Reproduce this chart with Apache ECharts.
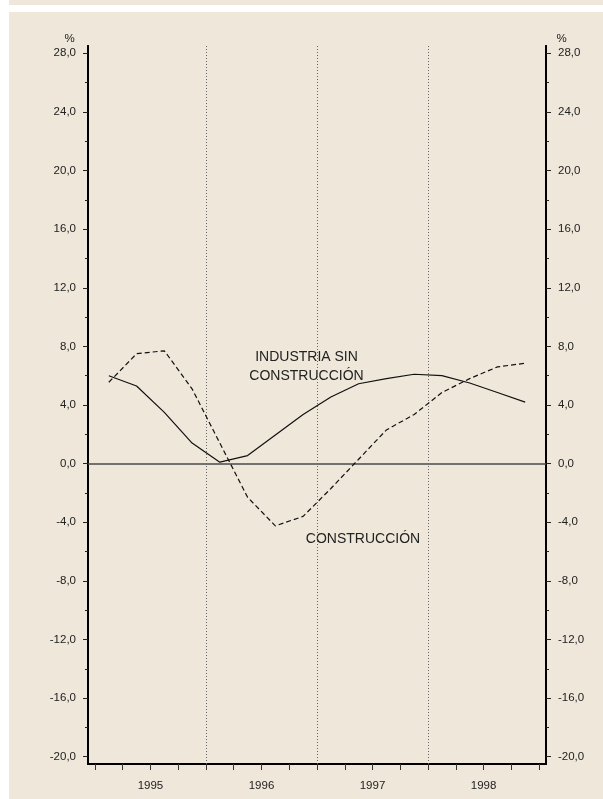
<!DOCTYPE html>
<html>
<head>
<meta charset="utf-8">
<script src="https://cdn.jsdelivr.net/npm/echarts@6/dist/echarts.min.js"></script>
<style>
  html, body { margin: 0; padding: 0; background: #ffffff; }
  #topband { position: absolute; left: 9px; top: 0; width: 594px; height: 5px; background: #eee7da; }
  #panel { position: absolute; left: 9px; top: 12px; width: 594px; height: 787px; background: #eee7da; }
  #chart { position: absolute; left: 0; top: 0; width: 603px; height: 799px; }
</style>
</head>
<body>
<div id="topband"></div>
<div id="panel"></div>
<div id="chart"></div>
<script>
// Quarterly data, 1995 Q1 .. 1998 Q4
const years = ['1995', '1996', '1997', '1998'];
const industria = [6.0, 5.3, 3.5, 1.4, 0.1, 0.55, 1.95, 3.35, 4.55, 5.45, 5.8, 6.1, 6.0, 5.5, 4.85, 4.2];
const construccion = [5.55, 7.5, 7.7, 5.1, 1.4, -2.3, -4.25, -3.6, -1.7, 0.3, 2.3, 3.35, 4.85, 5.8, 6.6, 6.85];
const yMajorTicks = [-20, -16, -12, -8, -4, 0, 4, 8, 12, 16, 20, 24, 28];
const yMinorTicks = [-20, -18, -16, -14, -12, -10, -8, -6, -4, -2, 0, 2, 4, 6, 8, 10, 12, 14, 16, 18, 20, 22, 24, 26, 28];
const yearBoundaries = [4, 8, 12];

const FONT = "'Liberation Sans', Arial, Helvetica, sans-serif";
const quarters = industria.length;
const xTicks = Array.from({length: quarters + 1}, (_, i) => i);
const yearLabelPos = years.map((_, i) => i * 4 + 2);
const fmt = v => v.toFixed(1).replace('.', ',');

function yAxisDef(pos, withLabels) {
  return {
    type: 'value', position: pos, min: -20.5, max: 28.5,
    name: withLabels ? '%' : '',
    nameLocation: 'end', nameGap: 1,
    nameTextStyle: { fontFamily: FONT, fontSize: 11.5, color: '#222',
      padding: pos === 'left' ? [0, 37, 0, 0] : [0, 0, 0, 31] },
    axisLine: { show: true, onZero: false, lineStyle: { color: '#000', width: 2 } },
    axisTick: { show: true, length: withLabels ? 3 : 5, customValues: withLabels ? yMinorTicks : yMajorTicks,
      lineStyle: { color: '#222', width: 1 } },
    axisLabel: { show: withLabels, customValues: yMajorTicks, formatter: fmt, margin: 12,
      fontFamily: FONT, fontSize: 11.5, color: '#222' },
    splitLine: { show: false }
  };
}

const chart = echarts.init(document.getElementById('chart'), null, { renderer: 'canvas' });
chart.setOption({
  animation: false,
  backgroundColor: 'transparent',
  grid: { left: 88, right: 57, top: 46, bottom: 35, containLabel: false },
  xAxis: {
    type: 'value', min: -0.25, max: quarters + 0.25,
    axisLine: { show: true, onZero: false, lineStyle: { color: '#000', width: 2 } },
    axisTick: { show: true, length: 6, customValues: xTicks, lineStyle: { color: '#333', width: 1 } },
    axisLabel: { customValues: yearLabelPos, formatter: v => years[Math.round((v - 2) / 4)],
      margin: 16, fontFamily: FONT, fontSize: 11.5, color: '#222' },
    splitLine: { show: false }
  },
  yAxis: [yAxisDef('left', true), yAxisDef('left', false), yAxisDef('right', true), yAxisDef('right', false)],
  series: [
    {
      type: 'line', name: 'INDUSTRIA SIN CONSTRUCCIÓN',
      data: industria.map((v, i) => [i + 0.5, v]),
      showSymbol: false, symbol: 'none',
      lineStyle: { color: '#111', width: 1.2, type: 'solid' },
      z: 5,
      markLine: {
        silent: true, symbol: 'none', label: { show: false },
        data: [
          { yAxis: 0, lineStyle: { color: '#4a4a4a', width: 1.5, type: 'solid' } }
        ].concat(yearBoundaries.map(b => ({ xAxis: b, lineStyle: { color: '#666', width: 1, type: [1, 2] } })))
      }
    },
    {
      type: 'line', name: 'CONSTRUCCIÓN',
      data: construccion.map((v, i) => [i + 0.5, v]),
      showSymbol: false, symbol: 'none',
      lineStyle: { color: '#111', width: 1.2, type: [5, 3] },
      z: 5
    }
  ],
  graphic: [
    { type: 'text', x: 306.5, y: 357.3, style: { text: 'INDUSTRIA SIN', align: 'center', verticalAlign: 'middle', font: '14px ' + FONT, fill: '#222' } },
    { type: 'text', x: 306.5, y: 375.7, style: { text: 'CONSTRUCCIÓN', align: 'center', verticalAlign: 'middle', font: '14px ' + FONT, fill: '#222' } },
    { type: 'text', x: 363, y: 539, style: { text: 'CONSTRUCCIÓN', align: 'center', verticalAlign: 'middle', font: '14px ' + FONT, fill: '#222' } }
  ]
});
</script>
</body>
</html>
